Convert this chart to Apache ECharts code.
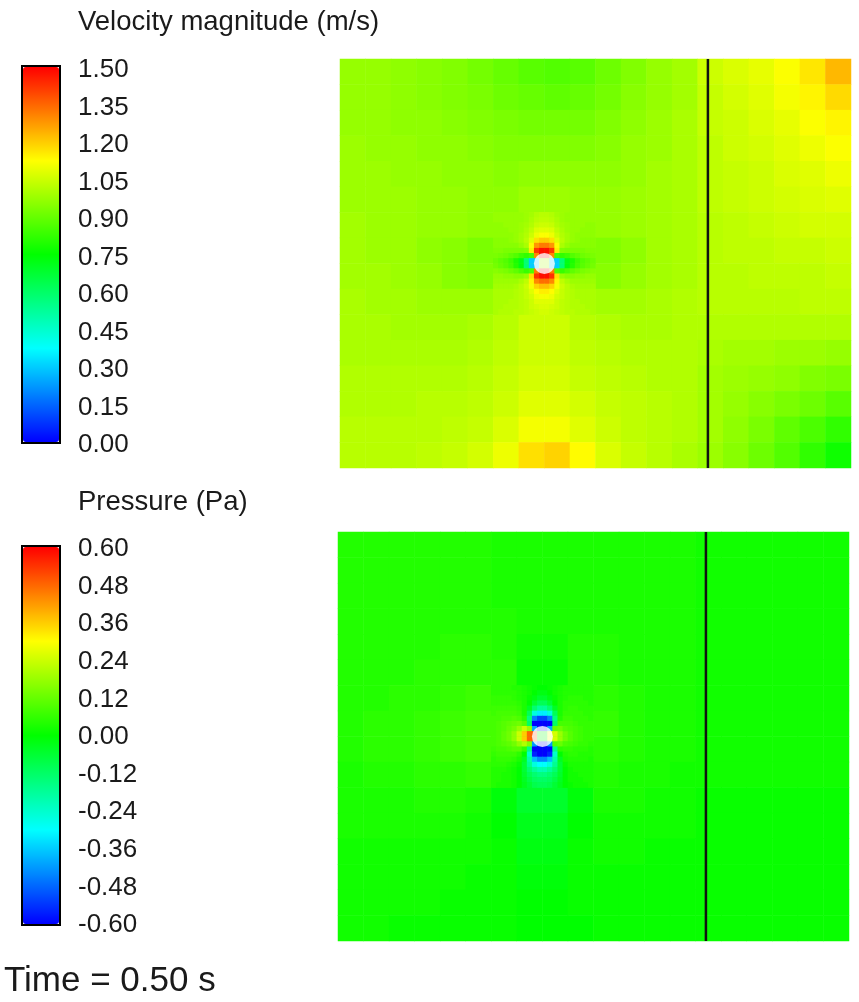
<!DOCTYPE html>
<html><head><meta charset="utf-8">
<script src="https://cdn.jsdelivr.net/npm/echarts@6/dist/echarts.min.js"></script>
<style>html,body{margin:0;padding:0;background:#fff}#c{width:859px;height:1002px}</style>
</head><body><div id="c"></div>
<script>
// ---------- data ----------
const velTicks = ['0.00','0.15','0.30','0.45','0.60','0.75','0.90','1.05','1.20','1.35','1.50'];
const presTicks = ['-0.60','-0.48','-0.36','-0.24','-0.12','0.00','0.12','0.24','0.36','0.48','0.60'];
const velRange = [0, 1.5];
const presRange = [-0.6, 0.6];
const domainSize = [5, 4];              // domain width, height
const patchBox = [1.5, 2.5, 1.5, 2.5];  // fine patch x0,x1,y0,y1 (domain units)
const cylinder = [[2, 2]];
const probeLine = [[3.6, 0], [3.6, 4]];
const timeLabel = 'Time = 0.50 s';

// coarse field, 20 columns x 16 rows, rows listed top -> bottom
const velCoarse = [
[0.97,0.97,0.96,0.95,0.94,0.92,0.90,0.88,0.87,0.88,0.91,0.94,0.97,0.99,1.05,1.07,1.09,1.12,1.16,1.23],
[0.97,0.97,0.96,0.95,0.94,0.93,0.91,0.90,0.89,0.90,0.92,0.95,0.97,0.99,1.04,1.06,1.08,1.11,1.14,1.18],
[0.97,0.97,0.96,0.96,0.95,0.94,0.93,0.92,0.92,0.92,0.94,0.96,0.98,1.00,1.04,1.05,1.07,1.09,1.12,1.14],
[0.98,0.97,0.97,0.96,0.96,0.95,0.94,0.94,0.94,0.94,0.95,0.97,0.98,1.00,1.03,1.05,1.06,1.08,1.10,1.12],
[0.98,0.98,0.97,0.97,0.96,0.96,0.95,0.96,0.96,0.96,0.96,0.97,0.99,1.00,1.03,1.04,1.05,1.07,1.08,1.10],
[0.98,0.98,0.98,0.97,0.97,0.96,0.96,0.98,0.98,0.97,0.97,0.98,0.99,1.00,1.03,1.04,1.05,1.06,1.07,1.08],
[0.99,0.98,0.98,0.97,0.97,0.96,0.97,1.01,1.01,0.97,0.97,0.98,0.99,1.00,1.02,1.03,1.04,1.05,1.06,1.06],
[0.99,0.98,0.98,0.96,0.95,0.93,0.93,0.96,0.96,0.93,0.94,0.96,0.99,1.00,1.02,1.03,1.03,1.04,1.04,1.05],
[0.99,0.99,0.98,0.97,0.95,0.94,0.94,0.97,0.97,0.94,0.95,0.97,0.99,1.00,1.02,1.02,1.03,1.03,1.03,1.04],
[1.00,0.99,0.99,0.98,0.98,0.98,1.00,1.04,1.04,1.00,0.99,0.99,1.00,1.01,1.02,1.02,1.02,1.02,1.03,1.03],
[1.00,1.00,0.99,0.99,0.99,1.00,1.02,1.05,1.05,1.02,1.01,1.00,1.00,1.01,1.01,1.01,1.01,1.01,1.01,1.01],
[1.00,1.00,1.00,1.00,1.00,1.01,1.03,1.05,1.05,1.03,1.02,1.01,1.01,1.01,1.00,0.99,0.99,0.98,0.98,0.97],
[1.01,1.01,1.01,1.01,1.01,1.02,1.04,1.06,1.06,1.04,1.03,1.02,1.01,1.01,0.99,0.98,0.97,0.96,0.94,0.93],
[1.01,1.01,1.01,1.02,1.02,1.03,1.05,1.08,1.08,1.06,1.04,1.03,1.02,1.01,0.99,0.97,0.95,0.93,0.91,0.88],
[1.02,1.02,1.02,1.02,1.03,1.04,1.07,1.11,1.11,1.08,1.05,1.03,1.02,1.01,0.99,0.96,0.93,0.89,0.86,0.82],
[1.02,1.02,1.02,1.03,1.04,1.06,1.10,1.17,1.19,1.13,1.07,1.04,1.02,1.00,0.98,0.95,0.91,0.87,0.82,0.77]
];
// fine patch around the cylinder, 20 x 20, rows top -> bottom
const velPatch = [
[0.97,0.97,0.97,0.97,0.97,0.97,0.98,0.99,1.01,1.02,1.02,1.01,0.99,0.98,0.97,0.97,0.97,0.97,0.97,0.97],
[0.97,0.97,0.97,0.97,0.97,0.97,0.98,1.00,1.02,1.03,1.03,1.02,1.00,0.98,0.97,0.97,0.97,0.97,0.97,0.97],
[0.96,0.96,0.97,0.97,0.97,0.98,0.99,1.01,1.04,1.05,1.05,1.04,1.01,0.99,0.98,0.97,0.97,0.97,0.96,0.96],
[0.96,0.96,0.96,0.97,0.97,0.98,1.00,1.03,1.07,1.08,1.08,1.07,1.03,1.00,0.98,0.97,0.97,0.96,0.96,0.96],
[0.96,0.96,0.96,0.96,0.97,0.99,1.01,1.05,1.10,1.12,1.12,1.10,1.05,1.01,0.99,0.97,0.96,0.96,0.96,0.96],
[0.95,0.95,0.95,0.96,0.97,0.99,1.02,1.08,1.17,1.20,1.20,1.17,1.08,1.02,0.99,0.97,0.96,0.95,0.95,0.95],
[0.95,0.95,0.95,0.95,0.95,0.97,1.00,1.12,1.28,1.32,1.32,1.28,1.12,1.00,0.97,0.95,0.95,0.95,0.95,0.95],
[0.94,0.94,0.93,0.93,0.93,0.93,0.94,1.15,1.42,1.48,1.48,1.42,1.15,0.94,0.93,0.93,0.93,0.93,0.94,0.94],
[0.93,0.92,0.91,0.89,0.87,0.84,0.82,0.85,1.30,1.50,1.50,1.30,0.85,0.82,0.84,0.87,0.89,0.91,0.92,0.93],
[0.91,0.89,0.87,0.84,0.79,0.72,0.58,0.30,0.30,1.00,1.00,0.30,0.30,0.58,0.72,0.79,0.84,0.87,0.89,0.91],
[0.92,0.90,0.88,0.85,0.80,0.73,0.58,0.30,0.30,1.00,1.00,0.30,0.30,0.58,0.73,0.80,0.85,0.88,0.90,0.92],
[0.95,0.94,0.93,0.91,0.89,0.86,0.83,0.86,1.32,1.50,1.50,1.32,0.86,0.83,0.86,0.89,0.91,0.93,0.94,0.95],
[0.97,0.97,0.96,0.96,0.95,0.95,0.97,1.17,1.43,1.48,1.48,1.43,1.17,0.97,0.95,0.95,0.96,0.96,0.97,0.97],
[0.98,0.98,0.98,0.98,0.98,1.00,1.03,1.14,1.30,1.34,1.34,1.30,1.14,1.03,1.00,0.98,0.98,0.98,0.98,0.98],
[0.99,0.99,0.99,0.99,1.00,1.02,1.05,1.11,1.19,1.22,1.22,1.19,1.11,1.05,1.02,1.00,0.99,0.99,0.99,0.99],
[1.00,1.00,1.00,1.00,1.01,1.02,1.04,1.08,1.13,1.15,1.15,1.13,1.08,1.04,1.02,1.01,1.00,1.00,1.00,1.00],
[1.00,1.00,1.00,1.00,1.01,1.02,1.04,1.06,1.10,1.11,1.11,1.10,1.06,1.04,1.02,1.01,1.00,1.00,1.00,1.00],
[1.00,1.00,1.00,1.01,1.01,1.02,1.03,1.05,1.08,1.08,1.08,1.08,1.05,1.03,1.02,1.01,1.01,1.00,1.00,1.00],
[1.00,1.00,1.01,1.01,1.01,1.02,1.03,1.05,1.06,1.07,1.07,1.06,1.05,1.03,1.02,1.01,1.01,1.01,1.00,1.00],
[1.00,1.01,1.01,1.01,1.02,1.02,1.03,1.04,1.05,1.06,1.06,1.05,1.04,1.03,1.02,1.02,1.01,1.01,1.01,1.00]
];
const presCoarse = [
[0.04,0.04,0.04,0.04,0.04,0.04,0.03,0.03,0.03,0.03,0.03,0.03,0.03,0.03,0.02,0.02,0.02,0.02,0.02,0.02],
[0.04,0.04,0.04,0.04,0.04,0.04,0.03,0.03,0.03,0.03,0.03,0.03,0.03,0.03,0.02,0.02,0.02,0.02,0.02,0.02],
[0.04,0.04,0.04,0.04,0.04,0.04,0.03,0.03,0.03,0.03,0.03,0.03,0.03,0.03,0.02,0.02,0.02,0.02,0.02,0.02],
[0.04,0.04,0.04,0.04,0.04,0.04,0.04,0.03,0.03,0.03,0.03,0.03,0.03,0.03,0.02,0.02,0.02,0.02,0.02,0.02],
[0.04,0.04,0.04,0.04,0.05,0.05,0.04,0.02,0.02,0.04,0.04,0.03,0.03,0.03,0.02,0.02,0.02,0.02,0.02,0.02],
[0.04,0.04,0.04,0.05,0.05,0.05,0.05,0.01,0.01,0.04,0.04,0.03,0.03,0.03,0.02,0.02,0.02,0.02,0.02,0.02],
[0.04,0.04,0.05,0.05,0.06,0.07,0.05,0.00,0.00,0.05,0.05,0.04,0.03,0.03,0.02,0.02,0.02,0.02,0.02,0.02],
[0.04,0.05,0.05,0.06,0.07,0.08,0.10,0.00,0.00,0.08,0.06,0.04,0.03,0.03,0.02,0.02,0.02,0.02,0.02,0.02],
[0.04,0.05,0.05,0.06,0.07,0.08,0.10,0.00,0.00,0.08,0.05,0.04,0.03,0.03,0.02,0.02,0.02,0.02,0.02,0.02],
[0.03,0.04,0.04,0.05,0.05,0.06,0.05,0.00,0.00,0.04,0.04,0.03,0.03,0.02,0.02,0.02,0.02,0.02,0.02,0.02],
[0.03,0.03,0.03,0.04,0.04,0.03,-0.01,-0.05,-0.05,-0.01,0.03,0.03,0.02,0.02,0.01,0.01,0.01,0.01,0.01,0.01],
[0.03,0.03,0.03,0.03,0.03,0.02,0.00,-0.03,-0.03,0.00,0.02,0.02,0.02,0.02,0.01,0.01,0.01,0.01,0.01,0.01],
[0.02,0.02,0.02,0.02,0.02,0.02,0.01,-0.02,-0.02,0.01,0.02,0.02,0.01,0.01,0.01,0.01,0.01,0.01,0.01,0.01],
[0.02,0.02,0.02,0.02,0.02,0.01,0.01,-0.01,-0.01,0.01,0.01,0.01,0.01,0.01,0.01,0.01,0.01,0.01,0.01,0.01],
[0.02,0.02,0.02,0.02,0.01,0.01,0.01,0.00,0.00,0.01,0.01,0.01,0.01,0.01,0.01,0.01,0.01,0.01,0.01,0.01],
[0.02,0.02,0.01,0.01,0.01,0.01,0.01,0.00,0.00,0.00,0.01,0.01,0.01,0.01,0.01,0.01,0.01,0.01,0.01,0.01]
];
const presPatch = [
[0.05,0.05,0.05,0.05,0.04,0.04,0.03,0.02,0.01,0.00,0.00,0.01,0.02,0.03,0.04,0.04,0.04,0.04,0.04,0.04],
[0.05,0.05,0.05,0.05,0.05,0.04,0.03,0.02,0.00,-0.02,-0.02,0.00,0.02,0.03,0.04,0.04,0.04,0.04,0.04,0.04],
[0.06,0.06,0.06,0.06,0.05,0.04,0.03,0.01,-0.02,-0.05,-0.05,-0.02,0.01,0.03,0.04,0.05,0.05,0.05,0.04,0.04],
[0.06,0.06,0.06,0.06,0.06,0.05,0.03,0.00,-0.06,-0.10,-0.10,-0.06,0.00,0.03,0.05,0.05,0.05,0.05,0.05,0.04],
[0.07,0.07,0.07,0.07,0.07,0.06,0.03,-0.04,-0.13,-0.18,-0.18,-0.13,-0.04,0.03,0.05,0.06,0.06,0.05,0.05,0.05],
[0.07,0.08,0.08,0.08,0.08,0.07,0.03,-0.10,-0.26,-0.32,-0.32,-0.26,-0.10,0.03,0.06,0.06,0.06,0.06,0.05,0.05],
[0.08,0.08,0.09,0.09,0.10,0.09,0.05,-0.15,-0.45,-0.52,-0.52,-0.45,-0.15,0.04,0.07,0.07,0.06,0.06,0.06,0.05],
[0.08,0.09,0.10,0.11,0.12,0.13,0.10,-0.12,-0.60,-0.60,-0.60,-0.60,-0.12,0.08,0.08,0.08,0.07,0.06,0.06,0.06],
[0.08,0.09,0.10,0.12,0.14,0.18,0.24,0.18,-0.40,-0.60,-0.60,-0.40,0.12,0.13,0.10,0.09,0.08,0.07,0.06,0.06],
[0.08,0.09,0.11,0.13,0.17,0.24,0.36,0.48,0.50,0.00,0.00,0.30,0.25,0.18,0.13,0.10,0.08,0.07,0.06,0.06],
[0.08,0.09,0.11,0.13,0.17,0.24,0.36,0.48,0.50,0.00,0.00,0.30,0.25,0.18,0.13,0.10,0.08,0.07,0.06,0.06],
[0.08,0.09,0.10,0.11,0.13,0.17,0.21,0.15,-0.42,-0.60,-0.60,-0.42,0.10,0.12,0.09,0.08,0.07,0.06,0.06,0.05],
[0.07,0.08,0.08,0.09,0.10,0.10,0.06,-0.16,-0.60,-0.60,-0.60,-0.60,-0.16,0.05,0.06,0.06,0.05,0.05,0.05,0.04],
[0.06,0.07,0.07,0.07,0.07,0.05,0.00,-0.24,-0.56,-0.60,-0.60,-0.56,-0.24,0.00,0.04,0.05,0.05,0.04,0.04,0.04],
[0.05,0.06,0.06,0.06,0.05,0.03,-0.04,-0.20,-0.38,-0.44,-0.44,-0.38,-0.20,-0.04,0.03,0.04,0.04,0.04,0.04,0.03],
[0.05,0.05,0.05,0.04,0.03,0.01,-0.06,-0.17,-0.26,-0.30,-0.30,-0.26,-0.17,-0.06,0.01,0.03,0.03,0.03,0.03,0.03],
[0.04,0.04,0.04,0.03,0.02,0.00,-0.06,-0.13,-0.18,-0.21,-0.21,-0.18,-0.13,-0.06,0.00,0.02,0.03,0.03,0.03,0.03],
[0.04,0.04,0.03,0.03,0.02,0.00,-0.05,-0.10,-0.13,-0.15,-0.15,-0.13,-0.10,-0.05,0.00,0.02,0.02,0.03,0.03,0.03],
[0.04,0.04,0.03,0.03,0.02,0.00,-0.04,-0.08,-0.11,-0.12,-0.12,-0.11,-0.08,-0.04,0.00,0.02,0.02,0.02,0.03,0.03],
[0.04,0.03,0.03,0.03,0.02,0.00,-0.03,-0.06,-0.09,-0.10,-0.10,-0.09,-0.06,-0.03,0.00,0.01,0.02,0.02,0.02,0.03]
];

// ---------- layout / style ----------
const FONT = "'Liberation Sans', Arial, Helvetica, sans-serif";
const TXT = '#1a1a1a';
const JET = ['#0000ff', '#00ffff', '#00ff00', '#ffff00', '#ff0000'];
const panels = [
  { title: 'Velocity magnitude (m/s)', titleTop: 8, ticks: velTicks, range: velRange,
    coarse: velCoarse, patch: velPatch,
    bar: { left: 22, top: 66, width: 38, height: 377 },
    labels: { left: 22, top: 70, width: 38, height: 375 },
    field: { left: 340, top: 59, width: 511, height: 409 } },
  { title: 'Pressure (Pa)', titleTop: 488, ticks: presTicks, range: presRange,
    coarse: presCoarse, patch: presPatch,
    bar: { left: 22, top: 546, width: 38, height: 379 },
    labels: { left: 22, top: 549, width: 38, height: 376 },
    field: { left: 338, top: 532, width: 511, height: 409 } }
];

function toHeat(rows) {
  const out = [];
  rows.forEach((r, j) => r.forEach((v, i) => out.push([i, j, v])));
  return out;
}
function idx(n) { return Array.from({ length: n }, (_, i) => String(i)); }

const grid = [], xAxis = [], yAxis = [], series = [], visualMap = [];
const title = [];

panels.forEach((p) => {
  title.push({ text: p.title, left: 78, top: p.titleTop, padding: 0,
    textStyle: { fontSize: 27.5, fontWeight: 'normal', color: TXT, fontFamily: FONT } });

  // colour bar frame
  let g = grid.length;
  grid.push(Object.assign({ show: true, borderColor: '#000', borderWidth: 2,
    backgroundColor: 'transparent' }, p.bar));
  xAxis.push({ gridIndex: g, type: 'value', show: false });
  yAxis.push({ gridIndex: g, type: 'value', show: false });
  // tick labels
  g = grid.length;
  grid.push(Object.assign({}, p.labels));
  xAxis.push({ gridIndex: g, type: 'value', show: false });
  yAxis.push({ gridIndex: g, type: 'category', data: p.ticks, boundaryGap: false,
    position: 'right', axisLine: { show: false }, axisTick: { show: false },
    splitLine: { show: false },
    axisLabel: { interval: 0, margin: 18, fontSize: 26, color: TXT, fontFamily: FONT } });

  // coarse field
  const f = p.field;
  g = grid.length;
  grid.push({ left: f.left, top: f.top, width: f.width, height: f.height });
  xAxis.push({ gridIndex: g, type: 'category', data: idx(p.coarse[0].length), show: false });
  yAxis.push({ gridIndex: g, type: 'category', data: idx(p.coarse.length), inverse: true, show: false });
  const sCoarse = series.length;
  series.push({ type: 'heatmap', xAxisIndex: xAxis.length - 1, yAxisIndex: yAxis.length - 1,
    data: toHeat(p.coarse), progressive: 0, silent: true, emphasis: { disabled: true } });

  // fine patch
  const [px0, px1, py0, py1] = patchBox;
  g = grid.length;
  grid.push({
    left: f.left + f.width * px0 / domainSize[0],
    top: f.top + f.height * (domainSize[1] - py1) / domainSize[1],
    width: f.width * (px1 - px0) / domainSize[0],
    height: f.height * (py1 - py0) / domainSize[1]
  });
  xAxis.push({ gridIndex: g, type: 'category', data: idx(p.patch[0].length), show: false });
  yAxis.push({ gridIndex: g, type: 'category', data: idx(p.patch.length), inverse: true, show: false });
  const sPatch = series.length;
  series.push({ type: 'heatmap', xAxisIndex: xAxis.length - 1, yAxisIndex: yAxis.length - 1,
    data: toHeat(p.patch), progressive: 0, silent: true, emphasis: { disabled: true } });

  // physical overlay: probe line + cylinder
  g = grid.length;
  grid.push({ left: f.left, top: f.top, width: f.width, height: f.height });
  xAxis.push({ gridIndex: g, type: 'value', min: 0, max: domainSize[0], show: false });
  yAxis.push({ gridIndex: g, type: 'value', min: 0, max: domainSize[1], show: false });
  series.push({ type: 'line', xAxisIndex: xAxis.length - 1, yAxisIndex: yAxis.length - 1,
    data: probeLine, symbol: 'none', silent: true, z: 5,
    lineStyle: { color: '#111', width: 2.5 } });
  series.push({ type: 'scatter', xAxisIndex: xAxis.length - 1, yAxisIndex: yAxis.length - 1,
    data: cylinder, symbol: 'circle', symbolSize: 21, silent: true, z: 6,
    itemStyle: { color: '#ffffff' } });

  visualMap.push({ type: 'continuous', seriesIndex: [sCoarse, sPatch],
    min: p.range[0], max: p.range[1], calculable: false, hoverLink: false,
    show: true, padding: 0, left: p.bar.left + 1, top: p.bar.top + 1,
    itemWidth: p.bar.width - 2, itemHeight: p.bar.height - 2,
    inRange: { color: JET } });
});

title.push({ text: timeLabel, left: 4, top: 964, padding: 0,
  textStyle: { fontSize: 35, fontWeight: 'normal', color: TXT, fontFamily: FONT } });

const chart = echarts.init(document.getElementById('c'), null, { renderer: 'canvas' });
chart.setOption({ animation: false, backgroundColor: '#fff', title, grid, xAxis, yAxis, series, visualMap });
</script></body></html>
